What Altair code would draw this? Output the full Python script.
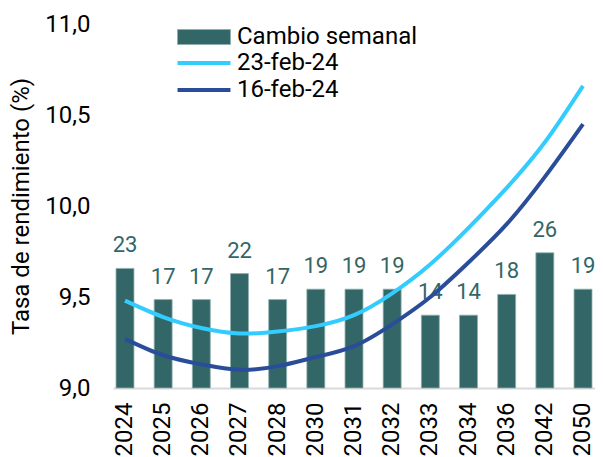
import altair as alt
import pandas as pd

years = ["2024", "2025", "2026", "2027", "2028", "2030", "2031", "2032",
         "2033", "2034", "2036", "2042", "2050"]
cambio = [23, 17, 17, 22, 17, 19, 19, 19, 14, 14, 18, 26, 19]
feb23 = [9.48, 9.39, 9.33, 9.30, 9.31, 9.34, 9.40, 9.52, 9.68, 9.88, 10.10, 10.35, 10.66]
feb16 = [9.27, 9.18, 9.13, 9.10, 9.12, 9.17, 9.23, 9.35, 9.50, 9.69, 9.90, 10.16, 10.45]
bar_name = "Cambio semanal"
line_names = ["23-feb-24", "16-feb-24"]
y_ticks = [9.0, 9.5, 10.0, 10.5, 11.0]

FONT = "Roboto"
FS = 24
BAR = "#336666"
BAR_EDGE = "#8fb0ac"
LIGHT = "#33ccff"
DARK = "#2a4d9a"

bars_df = pd.DataFrame({"anio": years, "cambio": cambio, "serie": [bar_name] * len(years)})
lines_df = pd.DataFrame({
    "anio": years * 2,
    "tasa": feb23 + feb16,
    "serie": [line_names[0]] * len(years) + [line_names[1]] * len(years),
})

xscale = alt.Scale(domain=years, paddingInner=0.53, paddingOuter=0.079)
xaxis = alt.Axis(title=None, labelAngle=-90, labelFontSize=FS, labelFont=FONT,
                 labelColor="#000000", labelPadding=14, ticks=False,
                 domainColor="#d9d9d9", domainWidth=2, grid=False)
x_enc = alt.X("anio:N", scale=xscale, axis=xaxis)
bar_y = alt.Y("cambio:Q", scale=alt.Scale(domain=[0, 70], nice=False, zero=True), axis=None)

bars = alt.Chart(bars_df).mark_bar(stroke=BAR_EDGE, strokeWidth=0.8).encode(
    x=x_enc,
    y=bar_y,
    fill=alt.Fill("serie:N", scale=alt.Scale(domain=[bar_name], range=[BAR]),
                  legend=alt.Legend(title=None, orient="none", legendX=64, legendY=1,
                                    symbolType="M-3.53,-1H3.53V1H-3.53Z", symbolSize=225,
                                    symbolStrokeColor=BAR_EDGE, symbolStrokeWidth=1,
                                    symbolOpacity=1, labelFontSize=FS, labelFont=FONT,
                                    labelColor="#000000", symbolOffset=15, labelOffset=21,
                                    labelLimit=400, padding=0)),
)

labels = alt.Chart(bars_df).mark_text(baseline="alphabetic", dy=-16, fontSize=22,
                                      font=FONT, color=BAR).encode(
    x=x_enc,
    y=bar_y,
    text="cambio:Q",
)

lines = alt.Chart(lines_df).mark_line(strokeWidth=4, interpolate="natural").encode(
    x=x_enc,
    y=alt.Y("tasa:Q", scale=alt.Scale(domain=[9, 11], nice=False, zero=False),
            axis=alt.Axis(orient="left", title="Tasa de rendimiento (%)", values=y_ticks,
                          labelExpr="replace(format(datum.value, '.1f'), '.', ',')",
                          ticks=False, domain=False, grid=False, labelFontSize=FS,
                          labelFont=FONT, labelColor="#000000", labelPadding=23,
                          titleFontSize=FS, titleFont=FONT, titleFontWeight="normal",
                          titleColor="#000000", titlePadding=11)),
    stroke=alt.Stroke("serie:N", scale=alt.Scale(domain=line_names, range=[LIGHT, DARK]),
                      sort=line_names,
                      legend=alt.Legend(title=None, orient="none", legendX=64, legendY=27,
                                        symbolType="M-3.53,0H3.53", symbolSize=225,
                                        symbolStrokeWidth=4, labelFontSize=FS, labelFont=FONT,
                                        labelColor="#000000", rowPadding=3, symbolOffset=15,
                                        labelOffset=21, labelLimit=400, padding=0)),
)

chart = alt.layer(bars, labels, lines).resolve_scale(
    y="independent", fill="independent", stroke="independent"
).properties(
    width=482, height=364,
    autosize=alt.AutoSizeParams(type="none"),
    padding={"left": 105, "top": 16, "right": 0, "bottom": 69},
).configure_view(stroke=None)

chart.save("out.html", embed_options={"renderer": "svg", "actions": False})
